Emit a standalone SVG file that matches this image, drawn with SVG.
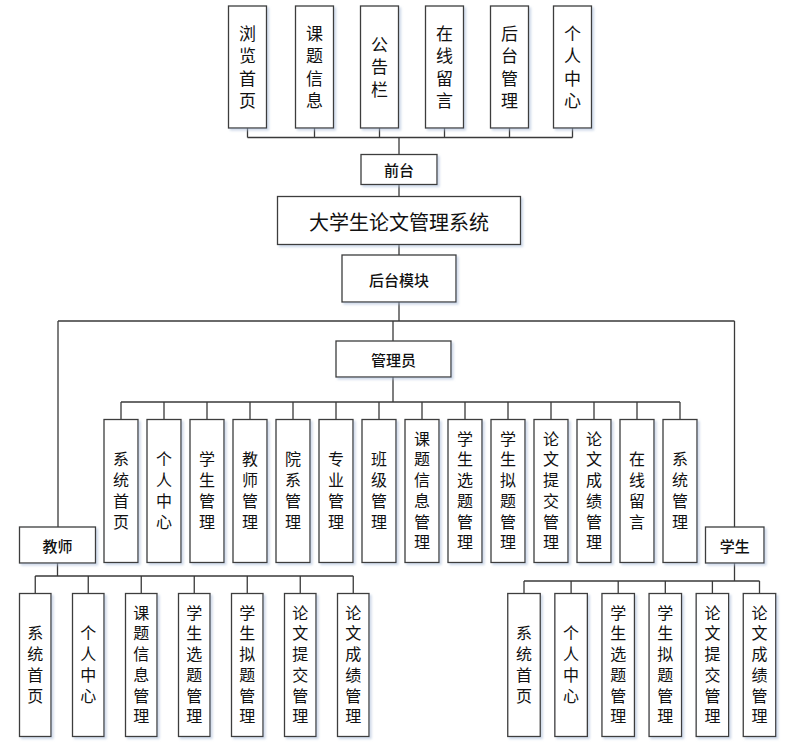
<svg xmlns="http://www.w3.org/2000/svg" width="801" height="745" viewBox="0 0 801 745">
<defs>
<filter id="sh" x="-20%" y="-20%" width="150%" height="150%">
<feDropShadow dx="2" dy="2" stdDeviation="1.2" flood-color="#a9bcd8" flood-opacity="0.55"/>
</filter>
<style>
.box{fill:#fff;stroke:#3c3c3c;stroke-width:1.3;filter:url(#sh)}
.ln{stroke:#3a3a3a;stroke-width:1.3;fill:none}
.t{font-family:"Noto Sans CJK SC","Noto Sans",sans-serif;text-anchor:middle;fill:#111}
.hz{dominant-baseline:central}
.v{writing-mode:vertical-rl;text-orientation:upright}
.vt{font-size:17px;letter-spacing:5.3px}
.vs{font-size:16px;letter-spacing:4.7px}
.h{font-size:15px;font-weight:500}
.title{font-size:20px}
</style>
</defs>
<rect width="801" height="745" fill="#fff"/>
<g id="connectors">
<path class="ln" d="M247.5 128V137.5M314.5 128V137.5M379.5 128V137.5M444.5 128V137.5M509.5 128V137.5M572.5 128V137.5M247.5 137.5H572.5"/>
<path class="ln" d="M399 137.5V154.5M399 184.5V196.5M399 244.5V255M399 302V321" stroke-width="1.8"/>
<path class="ln" d="M58 321H734.5M58 321V527M734.5 321V527M393 321V341"/>
<path class="ln" d="M393 377V402M121 402H680M121 402V419.5M164 402V419.5M207 402V419.5M250 402V419.5M293 402V419.5M336 402V419.5M379 402V419.5M422 402V419.5M465 402V419.5M508 402V419.5M551 402V419.5M594 402V419.5M637 402V419.5M680 402V419.5"/>
<path class="ln" d="M57.5 563V576M35.25 576H353.25M35.25 576V593.5M88.25 576V593.5M141.25 576V593.5M194.25 576V593.5M247.25 576V593.5M300.25 576V593.5M353.25 576V593.5"/>
<path class="ln" d="M734.5 563V581M524 581H759.5M524 581V593.5M571.1 581V593.5M618.2 581V593.5M665.3 581V593.5M712.4 581V593.5M759.5 581V593.5"/>
</g>
<g id="top-browse"><rect class="box" x="228.5" y="6" width="38" height="122"/><text class="t v vt" x="247.5" y="69.6">浏览首页</text></g>
<g id="top-topic"><rect class="box" x="295.5" y="6" width="38" height="122"/><text class="t v vt" x="314.5" y="69.6">课题信息</text></g>
<g id="top-notice"><rect class="box" x="360.5" y="6" width="38" height="122"/><text class="t v vt" x="379.5" y="69.6">公告栏</text></g>
<g id="top-message"><rect class="box" x="425.5" y="6" width="38" height="122"/><text class="t v vt" x="444.5" y="69.6">在线留言</text></g>
<g id="top-admin"><rect class="box" x="490.5" y="6" width="38" height="122"/><text class="t v vt" x="509.5" y="69.6">后台管理</text></g>
<g id="top-personal"><rect class="box" x="553.5" y="6" width="38" height="122"/><text class="t v vt" x="572.5" y="69.6">个人中心</text></g>
<g id="frontend"><rect class="box" x="361" y="154.5" width="76" height="30"/><text class="t hz h" x="399" y="169.5">前台</text></g>
<g id="system"><rect class="box" x="277.5" y="196.5" width="243" height="48"/><text class="t hz title" x="399" y="221">大学生论文管理系统</text></g>
<g id="backend"><rect class="box" x="342" y="255" width="114" height="47"/><text class="t hz h" x="399" y="279">后台模块</text></g>
<g id="administrator"><rect class="box" x="336" y="341" width="115" height="36"/><text class="t hz h" x="393.5" y="359">管理员</text></g>
<g id="teacher"><rect class="box" x="19.5" y="527" width="76" height="36"/><text class="t hz h" x="57.5" y="545">教师</text></g>
<g id="student"><rect class="box" x="705.5" y="527" width="58.5" height="36"/><text class="t hz h" x="734.7" y="545">学生</text></g>
<g id="a-home"><rect class="box" x="104" y="419.5" width="34" height="143"/><text class="t v vs" x="121" y="492.8">系统首页</text></g>
<g id="a-personal"><rect class="box" x="147" y="419.5" width="34" height="143"/><text class="t v vs" x="164" y="492.8">个人中心</text></g>
<g id="a-student"><rect class="box" x="190" y="419.5" width="34" height="143"/><text class="t v vs" x="207" y="492.8">学生管理</text></g>
<g id="a-teacher"><rect class="box" x="233" y="419.5" width="34" height="143"/><text class="t v vs" x="250" y="492.8">教师管理</text></g>
<g id="a-dept"><rect class="box" x="276" y="419.5" width="34" height="143"/><text class="t v vs" x="293" y="492.8">院系管理</text></g>
<g id="a-major"><rect class="box" x="319" y="419.5" width="34" height="143"/><text class="t v vs" x="336" y="492.8">专业管理</text></g>
<g id="a-class"><rect class="box" x="362" y="419.5" width="34" height="143"/><text class="t v vs" x="379" y="492.8">班级管理</text></g>
<g id="a-topic"><rect class="box" x="405" y="419.5" width="34" height="143"/><text class="t v vs" x="422" y="492.8">课题信息管理</text></g>
<g id="a-select"><rect class="box" x="448" y="419.5" width="34" height="143"/><text class="t v vs" x="465" y="492.8">学生选题管理</text></g>
<g id="a-propose"><rect class="box" x="491" y="419.5" width="34" height="143"/><text class="t v vs" x="508" y="492.8">学生拟题管理</text></g>
<g id="a-submit"><rect class="box" x="534" y="419.5" width="34" height="143"/><text class="t v vs" x="551" y="492.8">论文提交管理</text></g>
<g id="a-grade"><rect class="box" x="577" y="419.5" width="34" height="143"/><text class="t v vs" x="594" y="492.8">论文成绩管理</text></g>
<g id="a-message"><rect class="box" x="620" y="419.5" width="34" height="143"/><text class="t v vs" x="637" y="492.8">在线留言</text></g>
<g id="a-system"><rect class="box" x="663" y="419.5" width="34" height="143"/><text class="t v vs" x="680" y="492.8">系统管理</text></g>
<g id="t-home"><rect class="box" x="19.5" y="593.5" width="31.5" height="143"/><text class="t v vs" x="35.25" y="666.8">系统首页</text></g>
<g id="t-personal"><rect class="box" x="72.5" y="593.5" width="31.5" height="143"/><text class="t v vs" x="88.25" y="666.8">个人中心</text></g>
<g id="t-topic"><rect class="box" x="125.5" y="593.5" width="31.5" height="143"/><text class="t v vs" x="141.25" y="666.8">课题信息管理</text></g>
<g id="t-select"><rect class="box" x="178.5" y="593.5" width="31.5" height="143"/><text class="t v vs" x="194.25" y="666.8">学生选题管理</text></g>
<g id="t-propose"><rect class="box" x="231.5" y="593.5" width="31.5" height="143"/><text class="t v vs" x="247.25" y="666.8">学生拟题管理</text></g>
<g id="t-submit"><rect class="box" x="284.5" y="593.5" width="31.5" height="143"/><text class="t v vs" x="300.25" y="666.8">论文提交管理</text></g>
<g id="t-grade"><rect class="box" x="337.5" y="593.5" width="31.5" height="143"/><text class="t v vs" x="353.25" y="666.8">论文成绩管理</text></g>
<g id="s-home"><rect class="box" x="507.75" y="593.5" width="32.5" height="143"/><text class="t v vs" x="524" y="666.8">系统首页</text></g>
<g id="s-personal"><rect class="box" x="554.85" y="593.5" width="32.5" height="143"/><text class="t v vs" x="571.1" y="666.8">个人中心</text></g>
<g id="s-select"><rect class="box" x="601.95" y="593.5" width="32.5" height="143"/><text class="t v vs" x="618.2" y="666.8">学生选题管理</text></g>
<g id="s-propose"><rect class="box" x="649.05" y="593.5" width="32.5" height="143"/><text class="t v vs" x="665.3" y="666.8">学生拟题管理</text></g>
<g id="s-submit"><rect class="box" x="696.15" y="593.5" width="32.5" height="143"/><text class="t v vs" x="712.4" y="666.8">论文提交管理</text></g>
<g id="s-grade"><rect class="box" x="743.25" y="593.5" width="32.5" height="143"/><text class="t v vs" x="759.5" y="666.8">论文成绩管理</text></g>
</svg>
